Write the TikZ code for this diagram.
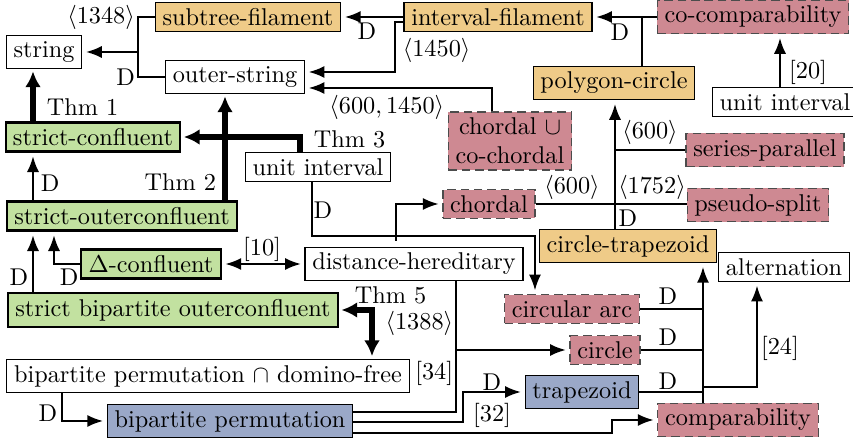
\documentclass[tikz,border=0pt]{standalone}
\usetikzlibrary{arrows.meta,calc}

\definecolor{filamentfill}{HTML}{EFCB88}
\definecolor{strictfill}{HTML}{C2E1A0}
\definecolor{knownfill}{HTML}{CE8992}
\definecolor{permfill}{HTML}{9AA8C8}

\tikzset{
  class/.style={draw, inner xsep=3pt, inner ysep=2.4pt, line width=0.5pt},
  plain/.style={class, fill=white},
  strictcl/.style={class, fill=strictfill, line width=0.9pt},
  filament/.style={class, fill=filamentfill},
  known/.style={class, fill=knownfill, draw=black!70, dash pattern=on 3.5pt off 2pt},
  perm/.style={class, fill=permfill},
  edge/.style={line width=0.85pt},
  arr/.style={edge, -{Latex[length=6.5pt,width=5pt]}, shorten >=1.5pt},
  darr/.style={edge, {Latex[length=6.5pt,width=5pt]}-{Latex[length=6.5pt,width=5pt]}, shorten >=1.5pt, shorten <=1.5pt},
  thm/.style={line width=2.1pt, -{Latex[length=6.5pt,width=6.5pt]}, shorten >=1pt},
  thmd/.style={line width=2.1pt, {Latex[length=6.5pt,width=6.5pt]}-{Latex[length=6.5pt,width=6.5pt]}, shorten >=1pt, shorten <=1pt},
  lbl/.style={inner sep=1pt},
}

\begin{document}
\begin{tikzpicture}[x=0.412pt, y=-0.412pt]
\useasboundingbox (0,0) rectangle (853,439);

% graph classes
\node[plain] (string) at (44,52) {string};
\node[filament] (subtree) at (248,17) {subtree-filament};
\node[filament] (intfil) at (498,17) {interval-filament};
\node[known] (cocomp) at (753,17) {co-comparability};
\node[plain] (outer) at (235,77) {outer-string};
\node[filament] (polycirc) at (614,83) {polygon-circle};
\node[plain] (unitR) at (785,102) {unit interval};
\node[known, align=center] (chcoch) at (510,141) {chordal $\cup$\\co-chordal};
\node[known] (serpar) at (765,150) {series-parallel};
\node[strictcl] (sconf) at (93,137) {strict-confluent};
\node[plain] (unitM) at (318,167) {unit interval};
\node[known] (chordal) at (489,204) {chordal};
\node[known] (psplit) at (758,205) {pseudo-split};
\node[strictcl] (souter) at (122,216) {strict-outerconfluent};
\node[filament] (circtrap) at (628,246) {circle-trapezoid};
\node[strictcl] (dconf) at (151,264) {$\Delta$-confluent};
\node[plain] (disthered) at (414,264) {distance-hereditary};
\node[plain] (altern) at (784,267) {alternation};
\node[strictcl] (sbouter) at (173,310) {strict bipartite outerconfluent};
\node[known] (circarc) at (572,309) {circular arc};
\node[known] (circle) at (605,350) {circle};
\node[plain] (bpdf) at (208,376) {bipartite permutation $\cap$ domino-free};
\node[perm] (trapez) at (582,392) {trapezoid};
\node[perm] (bperm) at (230,421) {bipartite permutation};
\node[known] (compar) at (738,420) {comparability};

% top part
\coordinate (jstr) at ($(subtree.west)+(-17,0)$);
\draw[edge] (subtree.west) -- (jstr) |- (outer.west);
\draw[arr] (jstr |- string.east) -- (string.east);
\node[lbl, anchor=east] (l1348) at (jstr) {$\langle 1348\rangle$};
\node[lbl, anchor=east] (lD1) at (jstr |- outer.west) {D};

\draw[arr] (intfil.west) -- (subtree.east);
\node[lbl] (lD2) at (367,31) {D};
\coordinate (jint) at ($(intfil.west)+(-8,5)$);
\draw[arr] ($(intfil.west)+(0,5)$) -- (jint) |- ($(outer.east)+(0,-5)$);
\node[lbl, anchor=west] (l1450) at (400,50) {$\langle 1450\rangle$};

\draw[arr] ($(chcoch.north)+(-18,0)$) |- ($(outer.east)+(0,11)$);
\node[lbl, anchor=east] (l6001450) at (447,107) {$\langle 600, 1450\rangle$};

\draw[arr] (cocomp.west) -- (intfil.east);
\coordinate (jpc) at ($(polycirc.north)+(28,0)$);
\draw[edge] (jpc) -- (jpc |- intfil.east);
\node[lbl] (lD3) at (620,32) {D};
\coordinate (jur) at ($(unitR.north)+(-5,0)$);
\draw[arr] (jur) -- (jur |- cocomp.south);
\node[lbl] (l20) at (808,72) {[20]};

% into polygon-circle
\coordinate (jct) at ($(circtrap.north)+(-13,0)$);
\draw[arr] (jct) -- (jct |- polycirc.south);
\draw[edge] (chordal.east) -- (chordal.east -| psplit.west);
\draw[edge] (serpar.west) -- (serpar.west -| jct);
\node[lbl] (l600a) at (650,132) {$\langle 600\rangle$};
\node[lbl] (l600b) at (572,187) {$\langle 600\rangle$};
\node[lbl] (l1752) at (652,187) {$\langle 1752\rangle$};
\node[lbl] (lD5) at (628,218) {D};

% unit interval (middle)
\coordinate (jum) at ($(unitM.south)+(-6,0)$);
\coordinate (jarc) at ($(circarc.north)+(-37,0)$);
\draw[arr] (jum) |- ($(jarc)+(0,-58)$) -- (jarc);
\coordinate (jch) at ($(jum)+(84,59)$);
\draw[arr] (jch) |- (chordal.west);
\node[lbl] (lD4) at (323,210) {D};

% theorems and left column
\draw[thm] ($(unitM.north)+(-18,0)$) |- (sconf.east);
\node[lbl, anchor=west] (lthm3) at (311,139) {Thm 3};
\coordinate (jso) at ($(souter.north)+(103,0)$);
\draw[thm] (jso) -- (jso |- outer.south);
\node[lbl, anchor=east] (lthm2) at (219,182) {Thm 2};
\coordinate (jsc) at ($(sconf.north)+(-60,0)$);
\draw[thm] (jsc) -- (jsc |- string.south);
\node[lbl, anchor=west] (lthm1) at (44,107) {Thm 1};

\coordinate (js2) at ($(souter.north)+(-89,0)$);
\draw[arr] (js2) -- (js2 |- sconf.south);
\node[lbl, anchor=west] (lD6) at (38,183) {D};
\coordinate (js3) at ($(sbouter.north)+(-140,0)$);
\draw[arr] (js3) -- (js3 |- souter.south);
\node[lbl, anchor=east] (lD7) at (31,277) {D};
\draw[arr] (dconf.west) -| ($(souter.south)+(-68,0)$);
\node[lbl, anchor=west] (lD8) at (57,277) {D};
\draw[darr] (dconf.east) -- (disthered.west);
\node[lbl] (l10) at (262,249) {[10]};

\draw[thmd] (sbouter.east) -| ($(bpdf.north)+(164,0)$);
\node[lbl, anchor=west] (lthm5) at (352,295) {Thm 5};
\coordinate (jbp) at ($(bpdf.south)+(-146,0)$);
\draw[arr] (jbp) |- (bperm.west);
\node[lbl, anchor=east] (lD9) at (60,413) {D};

% bipartite permutation
\coordinate (jdh) at ($(disthered.south)+(42,0)$);
\draw[edge] ($(bperm.east)+(0,-9)$) -| (jdh);
\draw[arr] (jdh |- circle.west) -- (circle.west);
\node[lbl, anchor=east] (l1388) at (456,323) {$\langle 1388\rangle$};
\node[lbl, anchor=east] (l34) at (456,373) {[34]};
\draw[arr] ($(bperm.east)+(0,1)$) -- ++(110,0) |- (trapez.west);
\node[lbl] (lD10) at (492,382) {D};
\node[lbl] (l32) at (492,415) {[32]};
\draw[arr] ($(bperm.east)+(0,12)$) -- ++(259,0) |- (compar.west);

% right bottom
\coordinate (jcmp) at ($(compar.north)+(-35,0)$);
\draw[arr] (jcmp) -- (jcmp |- circtrap.south);
\draw[edge] (circarc.east) -- (circarc.east -| jcmp);
\draw[edge] (circle.east) -- (circle.east -| jcmp);
\draw[edge] (trapez.east) -- (trapez.east -| jcmp);
\node[lbl] (lD11) at (668,296) {D};
\node[lbl] (lD12) at (668,337) {D};
\node[lbl] (lD13) at (668,381) {D};
\coordinate (jalt) at ($(jcmp)+(0,-16)$);
\draw[arr] (jalt) -| ($(altern.south)+(-27,0)$);
\node[lbl] (l24) at (780,348) {[24]};
\end{tikzpicture}
\end{document}
